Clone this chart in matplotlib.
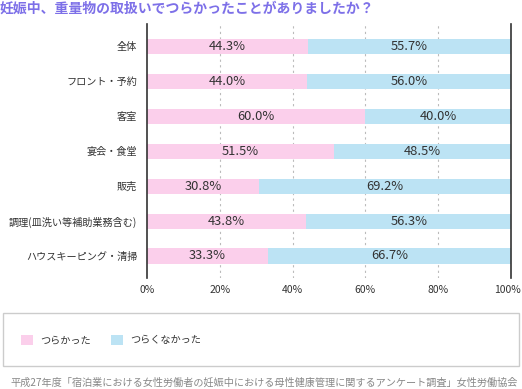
import matplotlib.pyplot as plt
import matplotlib.transforms as mtransforms
from matplotlib.patches import Rectangle, Patch

plt.rcParams['font.family'] = ['Noto Sans CJK JP', 'DejaVu Sans']

categories = ["全体", "フロント・予約", "客室", "宴会・食堂", "販売",
              "調理(皿洗い等補助業務含む)", "ハウスキーピング・清掃"]
tsurakatta = [44.3, 44.0, 60.0, 51.5, 30.8, 43.8, 33.3]
tsurakunakatta = [55.7, 56.0, 40.0, 48.5, 69.2, 56.3, 66.7]
series_names = ["つらかった", "つらくなかった"]
xticks = [0, 20, 40, 60, 80, 100]
xtick_labels = ["0%", "20%", "40%", "60%", "80%", "100%"]

pink = "#fbcfeb"
blue = "#bce3f4"
text_col = "#333333"

fig = plt.figure(figsize=(5.22, 3.89), dpi=100)
ax = fig.add_axes([147 / 522, 1 - 278 / 389, 364 / 522, 254 / 389])

y = list(range(len(categories)))
ax.barh(y, tsurakatta, height=0.43, color=pink)
ax.barh(y, tsurakunakatta, left=tsurakatta, height=0.43, color=blue)

for i in y:
    a = tsurakatta[i]
    b = tsurakunakatta[i]
    ax.text(a / 2, i, f"{a:.1f}%", ha="center", va="center",
            fontsize=9.3, color=text_col)
    ax.text(a + b / 2, i, f"{b:.1f}%", ha="center", va="center",
            fontsize=9.3, color=text_col)

ax.set_xlim(0, 100)
ax.set_ylim(6.63, -0.64)
ax.set_yticks(y)
ax.set_yticklabels(categories, fontsize=7.3, color=text_col)
ax.set_xticks(xticks)
ax.set_xticklabels(xtick_labels, fontsize=7.5, color=text_col)
ax.tick_params(axis="y", length=0, pad=7)
ax.tick_params(axis="x", length=0, pad=5)

# nudge the 100% label left so it stays inside the picture
last = ax.get_xticklabels()[-1]
last.set_transform(last.get_transform() +
                   mtransforms.ScaledTranslation(-4 / 100, 0, fig.dpi_scale_trans))

for x in xticks[1:-1]:
    ax.axvline(x, color="#bbbbbb", lw=0.8, ls=(0, (2, 3)), zorder=0)

ax.spines["top"].set_visible(False)
ax.spines["bottom"].set_visible(False)
ax.spines["left"].set_color(text_col)
ax.spines["right"].set_color(text_col)
ax.spines["left"].set_linewidth(1.2)
ax.spines["right"].set_linewidth(1.2)

# title
fig.text(0 / 522, 1 - 9 / 389, "妊娠中、重量物の取扱いでつらかったことがありましたか？",
         fontsize=10, fontweight="bold", color="#7d70e8", ha="left", va="center")

# legend box
fig.patches.append(Rectangle((3 / 522, 1 - 366 / 389), 516 / 522, 53 / 389,
                             transform=fig.transFigure, fill=False,
                             edgecolor="#cccccc", lw=1))
handles = [Patch(facecolor=pink, edgecolor="none"),
           Patch(facecolor=blue, edgecolor="none")]
fig.legend(handles, series_names, loc="center left", ncol=2,
           bbox_to_anchor=(21 / 522, 1 - 340 / 389), frameon=False,
           borderpad=0, borderaxespad=0,
           fontsize=7.3, handlelength=1.2, handleheight=1.2,
           handletextpad=0.7, columnspacing=2.0, labelcolor=text_col)

# footer
fig.text(518 / 522, 1 - 383 / 389,
         "平成27年度「宿泊業における女性労働者の妊娠中における母性健康管理に関するアンケート調査」女性労働協会",
         fontsize=7.3, color="#888888", ha="right", va="center")

fig.savefig("out.png", dpi=100)
